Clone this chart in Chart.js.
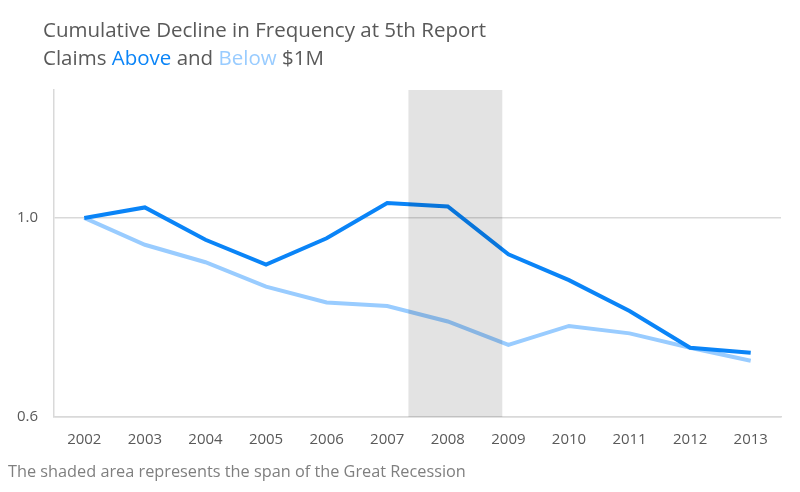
<!DOCTYPE html>
<html>
<head>
<meta charset="utf-8">
<script src="https://cdn.jsdelivr.net/npm/chart.js@4"></script>
<style>
  html, body { margin: 0; padding: 0; background: #fff; }
  #wrap { position: relative; width: 800px; height: 492px; overflow: hidden; }
  #chart { position: absolute; left: 0; top: 0; }
  .title { position: absolute; left: 43px; color: #595959; font-family: "Open Sans", sans-serif; font-size: 20.5px; line-height: 28px; white-space: nowrap; }
  #t1 { top: 15px; }
  #t2 { top: 43px; }
  .above { color: #0a84f7; }
  .below { color: #99ccff; }
  #note { position: absolute; left: 8px; top: 460px; color: #7f7f7f; font-family: "Open Sans", sans-serif; font-size: 16.3px; line-height: 22px; white-space: nowrap; }
</style>
</head>
<body>
<div id="wrap">
  <canvas id="chart" width="800" height="492"></canvas>
  <div class="title" id="t1">Cumulative Decline in Frequency at 5th Report</div>
  <div class="title" id="t2">Claims <span class="above">Above</span> and <span class="below">Below</span> $1M</div>
  <div id="note">The shaded area represents the span of the Great Recession</div>
</div>
<script>
// ---------- Data ----------
const years = ["2002", "2003", "2004", "2005", "2006", "2007", "2008", "2009", "2010", "2011", "2012", "2013"];
const above = [1.0, 1.021, 0.956, 0.906, 0.959, 1.03, 1.023, 0.927, 0.875, 0.813, 0.739, 0.729];
const below = [1.0, 0.946, 0.911, 0.862, 0.83, 0.823, 0.792, 0.745, 0.783, 0.768, 0.739, 0.713];
const yTicks = [0.6, 1.0];
// recession span in category index units (2007.35 -> 2008.9)
const recessionSpan = [5.35, 6.9];

// ---------- Shading overlay ----------
const recessionShade = {
  id: "recessionShade",
  afterDatasetsDraw(chart) {
    const { ctx, chartArea, scales } = chart;
    const x0 = scales.x.getPixelForValue(recessionSpan[0]);
    const x1 = scales.x.getPixelForValue(recessionSpan[1]);
    ctx.save();
    ctx.fillStyle = "rgba(0, 0, 0, 0.11)";
    ctx.fillRect(x0, chartArea.top, x1 - x0, chartArea.bottom - chartArea.top);
    ctx.restore();
  }
};

new Chart(document.getElementById("chart"), {
  type: "line",
  data: {
    labels: years,
    datasets: [
      {
        label: "Above $1M",
        data: above,
        borderColor: "#0a84f7",
        borderWidth: 4,
        pointRadius: 0,
        tension: 0
      },
      {
        label: "Below $1M",
        data: below,
        borderColor: "#99ccff",
        borderWidth: 4,
        pointRadius: 0,
        tension: 0
      }
    ]
  },
  options: {
    responsive: false,
    animation: false,
    layout: { padding: { top: 90, right: 19, bottom: 0, left: 0 } },
    plugins: {
      legend: { display: false },
      tooltip: { enabled: false }
    },
    scales: {
      x: {
        offset: true,
        grid: { display: false, drawTicks: false },
        border: { display: true, color: "#d9d9d9", width: 1.5 },
        ticks: {
          color: "#595959",
          font: { family: "Open Sans", size: 15 },
          padding: 14,
          maxRotation: 0
        },
        afterFit: (s) => { s.height = 75; }
      },
      y: {
        min: 0.6,
        max: 1.257,
        afterBuildTicks: (s) => { s.ticks = yTicks.map((v) => ({ value: v })); },
        grid: { color: "#d9d9d9", lineWidth: 1.5, drawTicks: false },
        border: { display: true, color: "#d9d9d9", width: 1.5 },
        ticks: {
          color: "#595959",
          font: { family: "Open Sans", size: 15 },
          padding: 16,
          callback: (v) => Number(v).toFixed(1)
        },
        afterFit: (s) => { s.width = 54; }
      }
    }
  },
  plugins: [recessionShade]
});
</script>
</body>
</html>
